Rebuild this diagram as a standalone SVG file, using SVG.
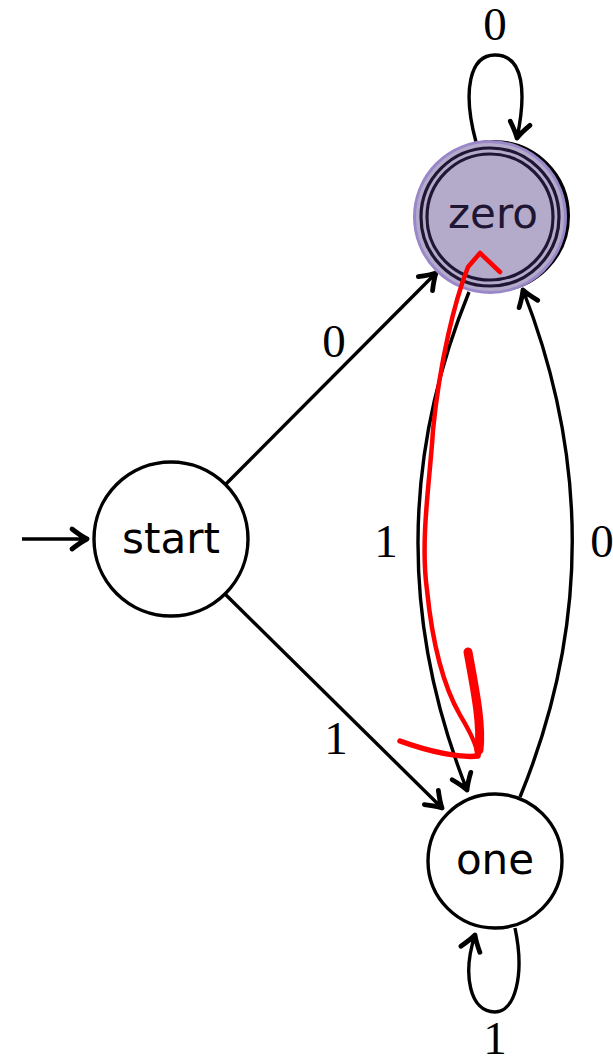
<svg xmlns="http://www.w3.org/2000/svg" width="613" height="1063" viewBox="0 0 613 1063">
<style>
.edge{fill:none;stroke:#000;stroke-width:3.4;marker-end:url(#arr)}
.node{fill:#fff;stroke:#000;stroke-width:3.4}
.nlabel{font-family:"DejaVu Sans",sans-serif;font-size:42px;text-anchor:middle}
.elabel{font-family:"Liberation Serif",serif;font-size:47px;text-anchor:middle}
.red{fill:none;stroke:#ff0000;stroke-linecap:round;stroke-linejoin:round}
</style>
<defs>
<marker id="arr" markerUnits="userSpaceOnUse" viewBox="-18 -12 22 24" refX="0" refY="0" markerWidth="22" markerHeight="24" orient="auto" overflow="visible">
<path d="M -15 -10 Q -6 -3 0 0 Q -6 3 -15 10" fill="none" stroke="#000" stroke-width="4.8" stroke-linecap="round" stroke-linejoin="round"/>
<path d="M 0 0 L -9 -4 L -7 0 L -9 4 Z" fill="#000"/>
</marker>
</defs>
<rect width="613" height="1063" fill="#fff"/>
<g id="connectors">
<path class="edge" d="M 22 539 L 87 539"/>
<path class="edge" d="M 225 485 L 436 273"/>
<path class="edge" d="M 225 594 L 442 808"/>
<path class="edge" d="M 469 292 Q 368 540 467 790"/>
<path class="edge" d="M 520 797 Q 623 546 523 290"/>
<path class="edge" d="M 476 142 C 462 90 470 55 495 55 C 525 55 526 95 517 138"/>
<path class="edge" d="M 515 928 C 525 975 515 1012 495 1012 C 470 1012 462 975 475 935"/>
<text class="elabel" x="334" y="357">0</text>
<text class="elabel" x="336" y="754">1</text>
<text class="elabel" x="386" y="557">1</text>
<text class="elabel" x="602" y="557">0</text>
<text class="elabel" x="495" y="40">0</text>
<text class="elabel" x="495" y="1054">1</text>
</g>
<g id="start">
<circle class="node" cx="171" cy="539" r="77"/>
<text class="nlabel" x="171" y="553">start</text>
</g>
<g id="zero">
<circle cx="494" cy="216" r="74" fill="none" stroke="#000" stroke-width="4"/>
<circle cx="490" cy="217" r="75.5" fill="#b4abcb" stroke="#9a87c9" stroke-width="3"/>
<circle cx="490" cy="217" r="69" fill="none" stroke="#1e1633" stroke-width="3.2"/>
<circle cx="490" cy="217" r="63" fill="none" stroke="#1e1633" stroke-width="3.2"/>
<text class="nlabel" x="493" y="228" fill="#1e1633">zero</text>
</g>
<g id="one">
<circle class="node" cx="495" cy="861" r="67"/>
<text class="nlabel" x="495" y="874">one</text>
</g>
<g id="annotation">
<path class="red" stroke-width="4.5" d="M 500 272 L 480 253 L 468 267 C 455 300 440 360 433 430 C 430 480 420 540 427 590 C 431 630 440 680 460 715 C 472 735 478 750 477 756"/>
<path class="red" stroke-width="9" d="M 468 652 C 475 690 482 725 479 750"/>
<path class="red" stroke-width="5.5" d="M 479 750 L 478 756 C 460 758 430 752 400 741"/>
</g>
</svg>
